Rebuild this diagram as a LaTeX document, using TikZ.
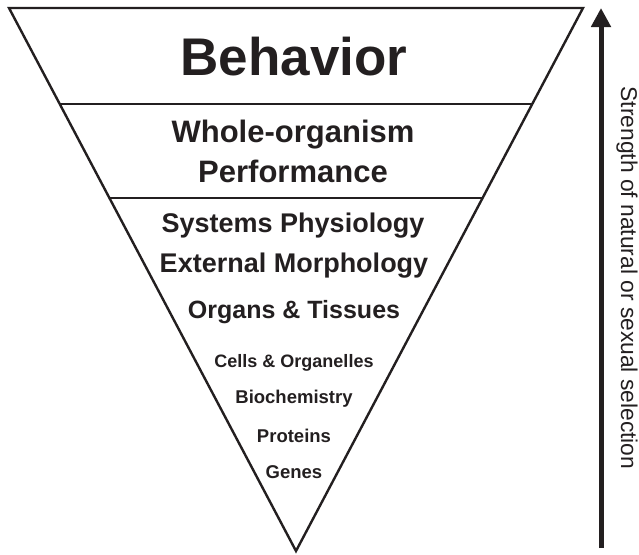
\documentclass[tikz,border=0pt]{standalone}
\usepackage{fontspec}
\setmainfont{Liberation Sans}
\usetikzlibrary{calc,arrows.meta}
\definecolor{ink}{HTML}{231F20}
\tikzset{
  edge/.style={draw=ink,line width=2.4pt,line join=miter},
  lvl/.style={text=ink,font=\bfseries,anchor=base,inner sep=0pt},
  axis/.style={draw=ink,line width=5pt,-{Triangle[length=19pt,width=19pt]}},
}
\begin{document}
\begin{tikzpicture}[x=1pt,y=-1pt]
\useasboundingbox (0,0) rectangle (639,554);
\coordinate (tl) at (9,8);
\coordinate (tr) at (583,8);
\coordinate (ap) at (296,551);
\draw[edge] (tl) -- (tr) -- (ap) -- cycle;
\coordinate (l1) at ($(tl)!0.1768!(ap)$);
\coordinate (r1) at ($(tr)!0.1768!(ap)$);
\coordinate (l2) at ($(tl)!0.3499!(ap)$);
\coordinate (r2) at ($(tr)!0.3499!(ap)$);
\draw[edge] (l1) -- (r1);
\draw[edge] (l2) -- (r2);
\node[lvl,font=\bfseries\fontsize{53}{60}\selectfont] (beh) at (294,75) {Behavior};
\node[lvl,font=\bfseries\fontsize{31}{40}\selectfont,align=center] (who) at (293,182) {Whole-organism\\Performance};
\node[lvl,font=\bfseries\fontsize{27}{30}\selectfont] (sys) at (293,232) {Systems Physiology};
\node[lvl,font=\bfseries\fontsize{27}{30}\selectfont] (ext) at (294,272) {External Morphology};
\node[lvl,font=\bfseries\fontsize{25}{30}\selectfont] (org) at (294,318) {Organs \& Tissues};
\node[lvl,font=\bfseries\fontsize{18}{22}\selectfont] (cel) at (294,367) {Cells \& Organelles};
\node[lvl,font=\bfseries\fontsize{18.5}{22}\selectfont] (bio) at (294,403) {Biochemistry};
\node[lvl,font=\bfseries\fontsize{18.5}{22}\selectfont] (pro) at (294,442) {Proteins};
\node[lvl,font=\bfseries\fontsize{18.5}{22}\selectfont] (gen) at (294,478) {Genes};
\coordinate (a0) at (601,548);
\coordinate (a1) at (601,8);
\draw[axis] (a0) -- (a1);
\node[text=ink,font=\fontsize{22.8}{26}\selectfont,rotate=-90,inner sep=0pt] (lab) at (627,278) {Strength of natural or sexual selection};
\end{tikzpicture}
\end{document}
